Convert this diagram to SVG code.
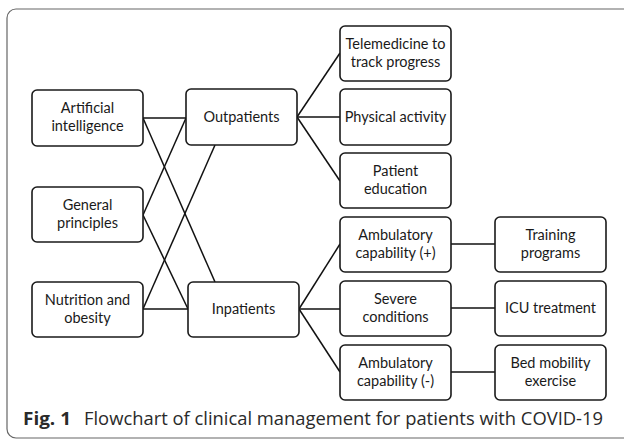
<svg xmlns="http://www.w3.org/2000/svg" width="624" height="440" viewBox="0 0 624 440">
<style>
.box{fill:#fff;stroke:#1a1a1a;stroke-width:1.6}
.lbl{font-family:Lato,"Liberation Sans",sans-serif;font-size:14.5px;fill:#1a1a1a;text-anchor:middle}
.con{stroke:#111;stroke-width:1.5;fill:none}
.cap{font-family:"Open Sans","Liberation Sans",sans-serif;font-size:18px;fill:#2a2a2a}
</style>
<rect x="7" y="9" width="640" height="429" rx="9" fill="#fff" stroke="#666" stroke-width="1.2"/>
<g id="connectors">
<path class="con" d="M143,118 H186"/>
<path class="con" d="M143,118 L215,282"/>
<path class="con" d="M186,118 L143,215"/>
<path class="con" d="M215,145 L143,309"/>
<path class="con" d="M143,215 L188,309"/>
<path class="con" d="M143,309 H188"/>
<path class="con" d="M297,117 L340,53"/>
<path class="con" d="M297,117 H340"/>
<path class="con" d="M297,117 L340,181"/>
<path class="con" d="M299,309 L340,244"/>
<path class="con" d="M299,309 H340"/>
<path class="con" d="M299,309 L340,372"/>
<path class="con" d="M451,244 H495"/>
<path class="con" d="M451,308 H495"/>
<path class="con" d="M451,372 H495"/>
</g>
<g id="ai"><rect class="box" x="32" y="90" width="111" height="56" rx="5"/><text class="lbl" x="87.5" y="113">Artificial</text><text class="lbl" x="87.5" y="131">intelligence</text></g>
<g id="outpatients"><rect class="box" x="186" y="89" width="111" height="56" rx="5"/><text class="lbl" x="241.5" y="122">Outpatients</text></g>
<g id="general"><rect class="box" x="32" y="187" width="111" height="55" rx="5"/><text class="lbl" x="87.5" y="210">General</text><text class="lbl" x="87.5" y="228">principles</text></g>
<g id="nutrition"><rect class="box" x="32" y="282" width="111" height="55" rx="5"/><text class="lbl" x="87.5" y="305">Nutrition and</text><text class="lbl" x="87.5" y="323">obesity</text></g>
<g id="inpatients"><rect class="box" x="188" y="282" width="111" height="55" rx="5"/><text class="lbl" x="243.5" y="314">Inpatients</text></g>
<g id="telemedicine"><rect class="box" x="340" y="26" width="111" height="55" rx="5"/><text class="lbl" x="395.5" y="49">Telemedicine to</text><text class="lbl" x="395.5" y="67">track progress</text></g>
<g id="physical"><rect class="box" x="340" y="89" width="111" height="56" rx="5"/><text class="lbl" x="395.5" y="122">Physical activity</text></g>
<g id="education"><rect class="box" x="340" y="153" width="111" height="55" rx="5"/><text class="lbl" x="395.5" y="176">Patient</text><text class="lbl" x="395.5" y="194">education</text></g>
<g id="ambplus"><rect class="box" x="340" y="217" width="111" height="55" rx="5"/><text class="lbl" x="395.5" y="240">Ambulatory</text><text class="lbl" x="395.5" y="258">capability (+)</text></g>
<g id="severe"><rect class="box" x="340" y="281" width="111" height="55" rx="5"/><text class="lbl" x="395.5" y="304">Severe</text><text class="lbl" x="395.5" y="322">conditions</text></g>
<g id="ambminus"><rect class="box" x="340" y="345" width="111" height="55" rx="5"/><text class="lbl" x="395.5" y="368">Ambulatory</text><text class="lbl" x="395.5" y="386">capability (-)</text></g>
<g id="training"><rect class="box" x="495" y="217" width="111" height="55" rx="5"/><text class="lbl" x="550.5" y="240">Training</text><text class="lbl" x="550.5" y="258">programs</text></g>
<g id="icu"><rect class="box" x="495" y="281" width="111" height="55" rx="5"/><text class="lbl" x="550.5" y="313">ICU treatment</text></g>
<g id="bed"><rect class="box" x="495" y="345" width="111" height="55" rx="5"/><text class="lbl" x="550.5" y="368">Bed mobility</text><text class="lbl" x="550.5" y="386">exercise</text></g>
<g id="caption"><text class="cap" x="23" y="425" font-weight="bold" textLength="48" lengthAdjust="spacingAndGlyphs">Fig. 1</text><text class="cap" x="84" y="425" textLength="519" lengthAdjust="spacingAndGlyphs">Flowchart of clinical management for patients with COVID-19</text></g>
</svg>
